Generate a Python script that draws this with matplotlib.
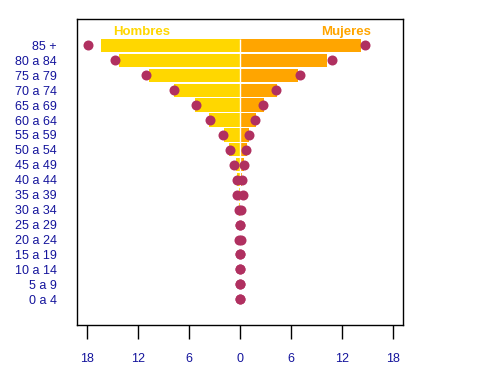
import matplotlib
matplotlib.use("Agg")
import matplotlib.pyplot as plt
import numpy as np

plt.rcParams['font.family'] = ['Liberation Sans', 'DejaVu Sans']

age_groups = ["0 a 4", "5 a 9", "10 a 14", "15 a 19", "20 a 24", "25 a 29",
              "30 a 34", "35 a 39", "40 a 44", "45 a 49", "50 a 54", "55 a 59",
              "60 a 64", "65 a 69", "70 a 74", "75 a 79", "80 a 84", "85 +"]

# Bars (percent)
hombres_bar = [0, 0, 0, 0, 0, 0, 0.08, 0.15, 0.32, 0.47, 1.26, 1.9,
               3.66, 5.3, 7.78, 10.7, 14.27, 16.4]
mujeres_bar = [0, 0, 0, 0, 0, 0, 0.0, 0.12, 0.27, 0.43, 0.83, 1.04,
               1.89, 2.83, 4.36, 6.8, 10.26, 14.27]

# Points (percent)
hombres_pts = [0.03, 0.03, 0.03, 0.03, 0.1, 0.05, 0.1, 0.33, 0.33, 0.67, 1.16, 1.97,
               3.5, 5.15, 7.75, 11.05, 14.8, 17.9]
mujeres_pts = [0.03, 0.03, 0.03, 0.03, 0.1, 0.05, 0.1, 0.3, 0.28, 0.51, 0.74, 1.1,
               1.8, 2.75, 4.28, 7.1, 10.9, 14.7]

tick_vals = [-18, -12, -6, 0, 6, 12, 18]
tick_labels = ["18", "12", "6", "0", "6", "12", "18"]

gold = "#FFD700"
orange = "#FFA500"
maroon = "#B03060"
navy = "#14149C"

fig = plt.figure(figsize=(4.8, 3.83), dpi=100)
ax = fig.add_axes([0.1598, 0.1514, 0.6806, 0.7982])

y = np.arange(len(age_groups))
bar_h = 0.88
ax.barh(y, -np.array(hombres_bar), height=bar_h, color=gold, edgecolor='none', zorder=2)
ax.barh(y, np.array(mujeres_bar), height=bar_h, color=orange, edgecolor='none', zorder=2)
ax.vlines(0, y[0] - bar_h / 2, y[-1] + bar_h / 2, color='white', lw=1.0, zorder=3)

ax.scatter(-np.array(hombres_pts), y, s=52, color=maroon, zorder=4, linewidths=0)
ax.scatter(np.array(mujeres_pts), y, s=52, color=maroon, zorder=4, linewidths=0)

ax.text(-11.6, 17.87, "Hombres", color=gold, fontsize=9.5, fontweight='bold',
        ha='center', va='center')
ax.text(12.5, 17.87, "Mujeres", color=orange, fontsize=9.5, fontweight='bold',
        ha='center', va='center')

ax.set_xlim(-19.26, 19.26)
ax.set_ylim(-1.72, 18.74)

ax.set_yticks(y)
ax.set_yticklabels(age_groups, color=navy, fontsize=9)
ax.tick_params(axis='y', length=0, pad=14.4)

ax.set_xticks(tick_vals)
ax.set_xticklabels(tick_labels, color=navy, fontsize=9)
ax.tick_params(axis='x', length=10, width=1, pad=10, color='black')

for s in ax.spines.values():
    s.set_linewidth(1)
    s.set_color('black')
    s.set_zorder(5)

fig.savefig("out.png", dpi=100)
